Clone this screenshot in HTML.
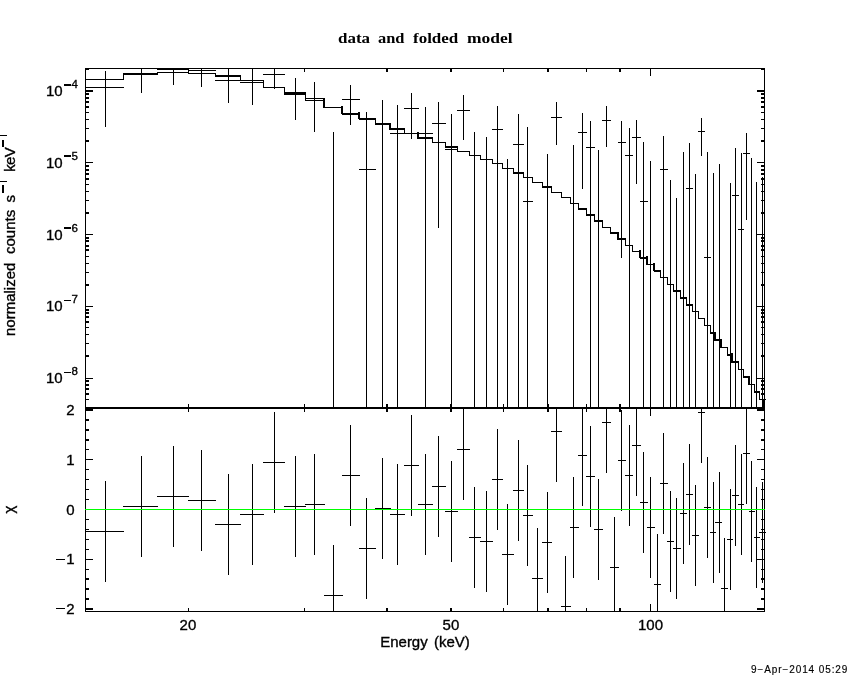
<!DOCTYPE html>
<html><head><meta charset="utf-8"><title>data and folded model</title>
<style>
html,body{margin:0;padding:0;background:#fff;}
body{width:850px;height:680px;overflow:hidden;position:relative;font-family:"Liberation Sans",sans-serif;color:#000;}
svg{position:absolute;left:0;top:0;}
.t{position:absolute;white-space:nowrap;line-height:1;font-size:15px;-webkit-text-stroke:0.35px #000;}
#txt{position:absolute;left:0;top:0;width:850px;height:680px;will-change:transform;}
.yl{text-align:right;width:60px;left:2.6px;}
.sp{left:71.6px;font-size:11.5px;}
.yn{text-align:right;width:60px;left:14.6px;}
.ti{top:29.6px;font-family:"Liberation Serif",serif;font-weight:bold;font-size:15.5px;-webkit-text-stroke:0;transform-origin:0 0;}
.yp{top:1.6px;}
.ys{top:-3px;font-size:11px;}
sup{font-size:11.5px;vertical-align:baseline;position:relative;top:-7px;line-height:0;letter-spacing:0.3px;}
</style></head><body>
<svg width="850" height="680" viewBox="0 0 850 680" shape-rendering="crispEdges">
<rect x="0" y="0" width="850" height="680" fill="#fff"/>
<g fill="#000"><rect x="85" y="68" width="680" height="1"/><rect x="85" y="407" width="680" height="2"/><rect x="85" y="611" width="680" height="1"/><rect x="85" y="68" width="1" height="544"/><rect x="764" y="68" width="1" height="544"/><rect x="85" y="79" width="39" height="1"/><rect x="123" y="73" width="35" height="2"/><rect x="123" y="74" width="1" height="6"/><rect x="157" y="72" width="32" height="1"/><rect x="157" y="72" width="1" height="3"/><rect x="188" y="73" width="28" height="1"/><rect x="188" y="72" width="1" height="2"/><rect x="215" y="75" width="26" height="2"/><rect x="215" y="73" width="1" height="3"/><rect x="240" y="80" width="24" height="1"/><rect x="240" y="75" width="1" height="6"/><rect x="263" y="87" width="22" height="1"/><rect x="263" y="80" width="1" height="8"/><rect x="284" y="92" width="22" height="2"/><rect x="284" y="87" width="1" height="7"/><rect x="305" y="100" width="20" height="1"/><rect x="305" y="93" width="1" height="8"/><rect x="324" y="107" width="19" height="1"/><rect x="323" y="99" width="2" height="9"/><rect x="342" y="113" width="18" height="2"/><rect x="341" y="106" width="2" height="8"/><rect x="359" y="118" width="17" height="2"/><rect x="358" y="112" width="2" height="7"/><rect x="375" y="123" width="16" height="2"/><rect x="375" y="118" width="1" height="7"/><rect x="390" y="128" width="15" height="2"/><rect x="389" y="123" width="2" height="7"/><rect x="404" y="133" width="15" height="1"/><rect x="404" y="129" width="1" height="5"/><rect x="418" y="137" width="15" height="2"/><rect x="417" y="132" width="2" height="7"/><rect x="432" y="142" width="14" height="1"/><rect x="432" y="138" width="1" height="5"/><rect x="445" y="146" width="13" height="2"/><rect x="445" y="142" width="1" height="5"/><rect x="457" y="151" width="13" height="1"/><rect x="457" y="146" width="1" height="6"/><rect x="469" y="155" width="12" height="1"/><rect x="469" y="151" width="1" height="5"/><rect x="480" y="159" width="13" height="1"/><rect x="480" y="155" width="1" height="5"/><rect x="492" y="163" width="11" height="1"/><rect x="492" y="159" width="1" height="5"/><rect x="502" y="168" width="12" height="1"/><rect x="502" y="163" width="1" height="6"/><rect x="513" y="172" width="11" height="2"/><rect x="513" y="168" width="1" height="6"/><rect x="523" y="177" width="10" height="1"/><rect x="523" y="173" width="1" height="5"/><rect x="532" y="182" width="11" height="1"/><rect x="532" y="177" width="1" height="6"/><rect x="542" y="186" width="10" height="2"/><rect x="542" y="182" width="1" height="6"/><rect x="551" y="192" width="11" height="1"/><rect x="551" y="187" width="1" height="6"/><rect x="561" y="197" width="10" height="1"/><rect x="561" y="192" width="1" height="6"/><rect x="570" y="203" width="9" height="1"/><rect x="570" y="197" width="1" height="7"/><rect x="578" y="208" width="9" height="2"/><rect x="578" y="203" width="1" height="6"/><rect x="586" y="214" width="9" height="2"/><rect x="586" y="208" width="1" height="8"/><rect x="594" y="220" width="9" height="2"/><rect x="594" y="215" width="1" height="7"/><rect x="602" y="227" width="9" height="1"/><rect x="602" y="221" width="1" height="7"/><rect x="610" y="232" width="9" height="2"/><rect x="610" y="227" width="1" height="7"/><rect x="618" y="238" width="8" height="2"/><rect x="617" y="232" width="2" height="8"/><rect x="625" y="245" width="8" height="1"/><rect x="625" y="239" width="1" height="7"/><rect x="632" y="251" width="9" height="1"/><rect x="632" y="245" width="1" height="7"/><rect x="640" y="257" width="8" height="2"/><rect x="639" y="250" width="2" height="8"/><rect x="647" y="264" width="8" height="1"/><rect x="646" y="256" width="2" height="9"/><rect x="654" y="270" width="7" height="2"/><rect x="653" y="263" width="2" height="8"/><rect x="660" y="277" width="8" height="1"/><rect x="660" y="270" width="1" height="8"/><rect x="667" y="284" width="7" height="1"/><rect x="667" y="277" width="1" height="8"/><rect x="673" y="290" width="8" height="2"/><rect x="673" y="284" width="1" height="7"/><rect x="680" y="297" width="7" height="2"/><rect x="680" y="290" width="1" height="9"/><rect x="686" y="304" width="7" height="2"/><rect x="686" y="298" width="1" height="8"/><rect x="692" y="311" width="7" height="1"/><rect x="692" y="305" width="1" height="7"/><rect x="698" y="318" width="7" height="1"/><rect x="698" y="311" width="1" height="8"/><rect x="704" y="325" width="7" height="1"/><rect x="704" y="318" width="1" height="8"/><rect x="710" y="332" width="6" height="2"/><rect x="710" y="325" width="1" height="9"/><rect x="715" y="339" width="7" height="2"/><rect x="714" y="332" width="2" height="9"/><rect x="721" y="347" width="7" height="1"/><rect x="720" y="339" width="2" height="9"/><rect x="727" y="354" width="6" height="2"/><rect x="727" y="347" width="1" height="8"/><rect x="732" y="361" width="7" height="2"/><rect x="731" y="353" width="2" height="10"/><rect x="738" y="369" width="6" height="1"/><rect x="738" y="362" width="1" height="8"/><rect x="743" y="376" width="7" height="2"/><rect x="743" y="369" width="1" height="9"/><rect x="749" y="384" width="6" height="1"/><rect x="748" y="376" width="2" height="9"/><rect x="754" y="391" width="6" height="2"/><rect x="754" y="384" width="1" height="9"/><rect x="759" y="399" width="7" height="1"/><rect x="759" y="392" width="1" height="8"/><rect x="763" y="399" width="1" height="8"/><rect x="105" y="71" width="1" height="56"/><rect x="85" y="87" width="39" height="1"/><rect x="141" y="68" width="1" height="25"/><rect x="123" y="73" width="35" height="1"/><rect x="173" y="68" width="1" height="17"/><rect x="157" y="69" width="32" height="1"/><rect x="201" y="68" width="1" height="19"/><rect x="188" y="70" width="28" height="1"/><rect x="228" y="68" width="1" height="35"/><rect x="215" y="80" width="26" height="1"/><rect x="252" y="68" width="1" height="37"/><rect x="240" y="82" width="24" height="1"/><rect x="274" y="68" width="1" height="21"/><rect x="263" y="74" width="22" height="1"/><rect x="295" y="78" width="1" height="42"/><rect x="284" y="94" width="22" height="1"/><rect x="314" y="82" width="1" height="50"/><rect x="305" y="98" width="20" height="1"/><rect x="333" y="132" width="1" height="276"/><rect x="350" y="85" width="1" height="40"/><rect x="342" y="99" width="18" height="1"/><rect x="366" y="112" width="1" height="296"/><rect x="359" y="169" width="17" height="1"/><rect x="382" y="100" width="1" height="308"/><rect x="397" y="105" width="1" height="303"/><rect x="390" y="133" width="15" height="1"/><rect x="411" y="93" width="1" height="46"/><rect x="404" y="108" width="15" height="1"/><rect x="425" y="107" width="1" height="301"/><rect x="418" y="133" width="15" height="1"/><rect x="438" y="102" width="1" height="126"/><rect x="432" y="123" width="14" height="1"/><rect x="451" y="114" width="1" height="294"/><rect x="445" y="149" width="13" height="1"/><rect x="463" y="95" width="1" height="45"/><rect x="457" y="110" width="13" height="1"/><rect x="474" y="132" width="1" height="276"/><rect x="486" y="137" width="1" height="271"/><rect x="497" y="106" width="1" height="302"/><rect x="492" y="129" width="11" height="1"/><rect x="507" y="159" width="1" height="249"/><rect x="518" y="114" width="1" height="294"/><rect x="513" y="144" width="11" height="1"/><rect x="527" y="127" width="1" height="281"/><rect x="523" y="201" width="10" height="1"/><rect x="547" y="154" width="1" height="254"/><rect x="556" y="102" width="1" height="43"/><rect x="551" y="117" width="11" height="1"/><rect x="573" y="145" width="1" height="263"/><rect x="582" y="113" width="1" height="76"/><rect x="578" y="132" width="9" height="1"/><rect x="590" y="121" width="1" height="287"/><rect x="586" y="147" width="9" height="1"/><rect x="598" y="150" width="1" height="258"/><rect x="606" y="106" width="1" height="41"/><rect x="602" y="120" width="9" height="1"/><rect x="621" y="121" width="1" height="137"/><rect x="618" y="142" width="8" height="1"/><rect x="629" y="128" width="1" height="280"/><rect x="625" y="155" width="8" height="1"/><rect x="636" y="120" width="1" height="64"/><rect x="632" y="137" width="9" height="1"/><rect x="643" y="142" width="1" height="266"/><rect x="640" y="201" width="8" height="1"/><rect x="650" y="161" width="1" height="247"/><rect x="663" y="136" width="1" height="272"/><rect x="660" y="169" width="8" height="1"/><rect x="670" y="180" width="1" height="228"/><rect x="676" y="198" width="1" height="210"/><rect x="683" y="152" width="1" height="256"/><rect x="689" y="143" width="1" height="265"/><rect x="686" y="188" width="7" height="1"/><rect x="695" y="174" width="1" height="234"/><rect x="701" y="118" width="1" height="38"/><rect x="698" y="131" width="7" height="1"/><rect x="707" y="152" width="1" height="256"/><rect x="704" y="257" width="7" height="1"/><rect x="713" y="173" width="1" height="235"/><rect x="719" y="164" width="1" height="244"/><rect x="730" y="183" width="1" height="225"/><rect x="735" y="148" width="1" height="260"/><rect x="732" y="195" width="7" height="1"/><rect x="741" y="153" width="1" height="255"/><rect x="738" y="229" width="6" height="1"/><rect x="746" y="133" width="1" height="87"/><rect x="743" y="153" width="7" height="1"/><rect x="751" y="158" width="1" height="250"/><rect x="756" y="182" width="1" height="226"/><rect x="762" y="177" width="1" height="231"/><rect x="105" y="481" width="1" height="101"/><rect x="85" y="531" width="39" height="1"/><rect x="141" y="456" width="1" height="101"/><rect x="123" y="506" width="35" height="1"/><rect x="173" y="446" width="1" height="101"/><rect x="157" y="496" width="32" height="1"/><rect x="201" y="450" width="1" height="101"/><rect x="188" y="500" width="28" height="1"/><rect x="228" y="474" width="1" height="101"/><rect x="215" y="524" width="26" height="1"/><rect x="252" y="464" width="1" height="101"/><rect x="240" y="514" width="24" height="1"/><rect x="274" y="412" width="1" height="101"/><rect x="263" y="462" width="22" height="1"/><rect x="295" y="456" width="1" height="101"/><rect x="284" y="506" width="22" height="1"/><rect x="314" y="454" width="1" height="101"/><rect x="305" y="504" width="20" height="1"/><rect x="333" y="545" width="1" height="66"/><rect x="324" y="595" width="19" height="1"/><rect x="350" y="425" width="1" height="101"/><rect x="342" y="475" width="18" height="1"/><rect x="366" y="498" width="1" height="101"/><rect x="359" y="548" width="17" height="1"/><rect x="382" y="458" width="1" height="101"/><rect x="375" y="508" width="16" height="1"/><rect x="397" y="464" width="1" height="101"/><rect x="390" y="514" width="15" height="1"/><rect x="411" y="415" width="1" height="101"/><rect x="404" y="465" width="15" height="1"/><rect x="425" y="454" width="1" height="101"/><rect x="418" y="504" width="15" height="1"/><rect x="438" y="436" width="1" height="101"/><rect x="432" y="486" width="14" height="1"/><rect x="451" y="461" width="1" height="101"/><rect x="445" y="511" width="13" height="1"/><rect x="463" y="409" width="1" height="91"/><rect x="457" y="449" width="13" height="1"/><rect x="474" y="487" width="1" height="101"/><rect x="469" y="537" width="12" height="1"/><rect x="486" y="491" width="1" height="101"/><rect x="480" y="541" width="13" height="1"/><rect x="497" y="429" width="1" height="101"/><rect x="492" y="479" width="11" height="1"/><rect x="507" y="504" width="1" height="101"/><rect x="502" y="554" width="12" height="1"/><rect x="518" y="440" width="1" height="101"/><rect x="513" y="490" width="11" height="1"/><rect x="527" y="465" width="1" height="101"/><rect x="523" y="515" width="10" height="1"/><rect x="537" y="528" width="1" height="83"/><rect x="532" y="578" width="11" height="1"/><rect x="547" y="492" width="1" height="101"/><rect x="542" y="542" width="10" height="1"/><rect x="556" y="409" width="1" height="73"/><rect x="551" y="431" width="11" height="1"/><rect x="565" y="556" width="1" height="55"/><rect x="561" y="606" width="10" height="1"/><rect x="573" y="477" width="1" height="101"/><rect x="570" y="527" width="9" height="1"/><rect x="582" y="409" width="1" height="97"/><rect x="578" y="455" width="9" height="1"/><rect x="590" y="426" width="1" height="101"/><rect x="586" y="476" width="9" height="1"/><rect x="598" y="479" width="1" height="101"/><rect x="594" y="529" width="9" height="1"/><rect x="606" y="409" width="1" height="64"/><rect x="602" y="422" width="9" height="1"/><rect x="614" y="517" width="1" height="94"/><rect x="610" y="567" width="9" height="1"/><rect x="621" y="410" width="1" height="101"/><rect x="618" y="460" width="8" height="1"/><rect x="629" y="425" width="1" height="101"/><rect x="625" y="475" width="8" height="1"/><rect x="636" y="409" width="1" height="87"/><rect x="632" y="445" width="9" height="1"/><rect x="643" y="452" width="1" height="101"/><rect x="640" y="502" width="8" height="1"/><rect x="650" y="477" width="1" height="101"/><rect x="647" y="527" width="8" height="1"/><rect x="657" y="534" width="1" height="77"/><rect x="654" y="584" width="7" height="1"/><rect x="663" y="433" width="1" height="101"/><rect x="660" y="483" width="8" height="1"/><rect x="670" y="491" width="1" height="101"/><rect x="667" y="541" width="7" height="1"/><rect x="676" y="498" width="1" height="101"/><rect x="673" y="548" width="8" height="1"/><rect x="683" y="463" width="1" height="101"/><rect x="680" y="513" width="7" height="1"/><rect x="689" y="444" width="1" height="101"/><rect x="686" y="494" width="7" height="1"/><rect x="695" y="485" width="1" height="101"/><rect x="692" y="535" width="7" height="1"/><rect x="701" y="409" width="1" height="54"/><rect x="698" y="412" width="7" height="1"/><rect x="707" y="457" width="1" height="101"/><rect x="704" y="507" width="7" height="1"/><rect x="713" y="482" width="1" height="101"/><rect x="710" y="532" width="6" height="1"/><rect x="719" y="472" width="1" height="101"/><rect x="715" y="522" width="7" height="1"/><rect x="724" y="538" width="1" height="73"/><rect x="721" y="588" width="7" height="1"/><rect x="730" y="489" width="1" height="101"/><rect x="727" y="539" width="6" height="1"/><rect x="735" y="445" width="1" height="101"/><rect x="732" y="495" width="7" height="1"/><rect x="741" y="454" width="1" height="101"/><rect x="738" y="504" width="6" height="1"/><rect x="746" y="409" width="1" height="95"/><rect x="743" y="453" width="7" height="1"/><rect x="751" y="461" width="1" height="101"/><rect x="749" y="511" width="6" height="1"/><rect x="756" y="487" width="1" height="101"/><rect x="754" y="537" width="6" height="1"/><rect x="762" y="482" width="1" height="101"/><rect x="759" y="532" width="7" height="1"/><rect x="188" y="69" width="1" height="3"/><rect x="188" y="404" width="1" height="3"/><rect x="188" y="409" width="1" height="3"/><rect x="188" y="608" width="1" height="3"/><rect x="304" y="69" width="1" height="3"/><rect x="304" y="404" width="1" height="3"/><rect x="304" y="409" width="1" height="3"/><rect x="304" y="608" width="1" height="3"/><rect x="386" y="69" width="2" height="3"/><rect x="386" y="404" width="2" height="3"/><rect x="386" y="409" width="2" height="3"/><rect x="386" y="608" width="2" height="3"/><rect x="450" y="69" width="2" height="3"/><rect x="450" y="404" width="2" height="3"/><rect x="450" y="409" width="2" height="3"/><rect x="450" y="608" width="2" height="3"/><rect x="503" y="69" width="1" height="3"/><rect x="503" y="404" width="1" height="3"/><rect x="503" y="409" width="1" height="3"/><rect x="503" y="608" width="1" height="3"/><rect x="547" y="69" width="2" height="3"/><rect x="547" y="404" width="2" height="3"/><rect x="547" y="409" width="2" height="3"/><rect x="547" y="608" width="2" height="3"/><rect x="586" y="69" width="1" height="3"/><rect x="586" y="404" width="1" height="3"/><rect x="586" y="409" width="1" height="3"/><rect x="586" y="608" width="1" height="3"/><rect x="619" y="69" width="2" height="3"/><rect x="619" y="404" width="2" height="3"/><rect x="619" y="409" width="2" height="3"/><rect x="619" y="608" width="2" height="3"/><rect x="650" y="69" width="1" height="7"/><rect x="650" y="400" width="1" height="7"/><rect x="650" y="409" width="1" height="7"/><rect x="650" y="604" width="1" height="7"/><rect x="86" y="90" width="7" height="2"/><rect x="757" y="90" width="7" height="2"/><rect x="86" y="162" width="7" height="1"/><rect x="757" y="162" width="7" height="1"/><rect x="86" y="234" width="7" height="1"/><rect x="757" y="234" width="7" height="1"/><rect x="86" y="306" width="7" height="1"/><rect x="757" y="306" width="7" height="1"/><rect x="86" y="378" width="7" height="1"/><rect x="757" y="378" width="7" height="1"/><rect x="86" y="68" width="3" height="2"/><rect x="761" y="68" width="3" height="2"/><rect x="86" y="140" width="3" height="2"/><rect x="761" y="140" width="3" height="2"/><rect x="86" y="128" width="3" height="1"/><rect x="761" y="128" width="3" height="1"/><rect x="86" y="119" width="3" height="1"/><rect x="761" y="119" width="3" height="1"/><rect x="86" y="112" width="3" height="1"/><rect x="761" y="112" width="3" height="1"/><rect x="86" y="106" width="3" height="2"/><rect x="761" y="106" width="3" height="2"/><rect x="86" y="101" width="3" height="2"/><rect x="761" y="101" width="3" height="2"/><rect x="86" y="97" width="3" height="2"/><rect x="761" y="97" width="3" height="2"/><rect x="86" y="93" width="3" height="2"/><rect x="761" y="93" width="3" height="2"/><rect x="86" y="212" width="3" height="2"/><rect x="761" y="212" width="3" height="2"/><rect x="86" y="200" width="3" height="1"/><rect x="761" y="200" width="3" height="1"/><rect x="86" y="191" width="3" height="1"/><rect x="761" y="191" width="3" height="1"/><rect x="86" y="184" width="3" height="1"/><rect x="761" y="184" width="3" height="1"/><rect x="86" y="178" width="3" height="2"/><rect x="761" y="178" width="3" height="2"/><rect x="86" y="173" width="3" height="2"/><rect x="761" y="173" width="3" height="2"/><rect x="86" y="169" width="3" height="2"/><rect x="761" y="169" width="3" height="2"/><rect x="86" y="165" width="3" height="2"/><rect x="761" y="165" width="3" height="2"/><rect x="86" y="284" width="3" height="2"/><rect x="761" y="284" width="3" height="2"/><rect x="86" y="272" width="3" height="1"/><rect x="761" y="272" width="3" height="1"/><rect x="86" y="263" width="3" height="1"/><rect x="761" y="263" width="3" height="1"/><rect x="86" y="256" width="3" height="1"/><rect x="761" y="256" width="3" height="1"/><rect x="86" y="249" width="3" height="2"/><rect x="761" y="249" width="3" height="2"/><rect x="86" y="245" width="3" height="2"/><rect x="761" y="245" width="3" height="2"/><rect x="86" y="240" width="3" height="2"/><rect x="761" y="240" width="3" height="2"/><rect x="86" y="237" width="3" height="2"/><rect x="761" y="237" width="3" height="2"/><rect x="86" y="355" width="3" height="2"/><rect x="761" y="355" width="3" height="2"/><rect x="86" y="343" width="3" height="1"/><rect x="761" y="343" width="3" height="1"/><rect x="86" y="334" width="3" height="1"/><rect x="761" y="334" width="3" height="1"/><rect x="86" y="327" width="3" height="1"/><rect x="761" y="327" width="3" height="1"/><rect x="86" y="321" width="3" height="2"/><rect x="761" y="321" width="3" height="2"/><rect x="86" y="316" width="3" height="2"/><rect x="761" y="316" width="3" height="2"/><rect x="86" y="312" width="3" height="2"/><rect x="761" y="312" width="3" height="2"/><rect x="86" y="309" width="3" height="2"/><rect x="761" y="309" width="3" height="2"/><rect x="86" y="399" width="3" height="1"/><rect x="761" y="399" width="3" height="1"/><rect x="86" y="393" width="3" height="2"/><rect x="761" y="393" width="3" height="2"/><rect x="86" y="388" width="3" height="2"/><rect x="761" y="388" width="3" height="2"/><rect x="86" y="384" width="3" height="2"/><rect x="761" y="384" width="3" height="2"/><rect x="86" y="380" width="3" height="2"/><rect x="761" y="380" width="3" height="2"/><rect x="86" y="409" width="7" height="2"/><rect x="757" y="409" width="7" height="2"/><rect x="86" y="419" width="3" height="2"/><rect x="761" y="419" width="3" height="2"/><rect x="86" y="429" width="3" height="2"/><rect x="761" y="429" width="3" height="2"/><rect x="86" y="439" width="3" height="2"/><rect x="761" y="439" width="3" height="2"/><rect x="86" y="449" width="3" height="1"/><rect x="761" y="449" width="3" height="1"/><rect x="86" y="459" width="7" height="1"/><rect x="757" y="459" width="7" height="1"/><rect x="86" y="469" width="3" height="1"/><rect x="761" y="469" width="3" height="1"/><rect x="86" y="479" width="3" height="1"/><rect x="761" y="479" width="3" height="1"/><rect x="86" y="489" width="3" height="1"/><rect x="761" y="489" width="3" height="1"/><rect x="86" y="499" width="3" height="1"/><rect x="761" y="499" width="3" height="1"/><rect x="86" y="509" width="7" height="1"/><rect x="757" y="509" width="7" height="1"/><rect x="86" y="519" width="3" height="1"/><rect x="761" y="519" width="3" height="1"/><rect x="86" y="529" width="3" height="1"/><rect x="761" y="529" width="3" height="1"/><rect x="86" y="539" width="3" height="1"/><rect x="761" y="539" width="3" height="1"/><rect x="86" y="549" width="3" height="1"/><rect x="761" y="549" width="3" height="1"/><rect x="86" y="559" width="7" height="1"/><rect x="757" y="559" width="7" height="1"/><rect x="86" y="569" width="3" height="1"/><rect x="761" y="569" width="3" height="1"/><rect x="86" y="578" width="3" height="2"/><rect x="761" y="578" width="3" height="2"/><rect x="86" y="588" width="3" height="2"/><rect x="761" y="588" width="3" height="2"/><rect x="86" y="598" width="3" height="2"/><rect x="761" y="598" width="3" height="2"/><rect x="86" y="608" width="7" height="2"/><rect x="757" y="608" width="7" height="2"/><rect x="64" y="84" width="7" height="2"/><rect x="64" y="155" width="7" height="2"/><rect x="64" y="227" width="7" height="2"/><rect x="64" y="300" width="7" height="1"/><rect x="64" y="372" width="7" height="1"/><rect x="56" y="559" width="9" height="1"/><rect x="56" y="608" width="9" height="1"/><rect x="2" y="185" width="2" height="8"/><rect x="0" y="181" width="7" height="1"/><rect x="2" y="140" width="2" height="7"/><rect x="0" y="135" width="7" height="1"/></g>
<rect x="85" y="509" width="680" height="1" fill="#00ff00"/>
</svg>
<div id="txt">
<div class="t ti" id="w1" style="left:337.5px;transform:scaleX(1.096);">data</div>
<div class="t ti" id="w2" style="left:378.4px;transform:scaleX(1.06);">and</div>
<div class="t ti" id="w3" style="left:413px;transform:scaleX(1.096);">folded</div>
<div class="t ti" id="w4" style="left:466.8px;transform:scaleX(1.127);">model</div>
<div class="t yl" style="top:83px;">10</div><div class="t sp" style="top:78.5px;">4</div>
<div class="t yl" style="top:155px;">10</div><div class="t sp" style="top:150.5px;">5</div>
<div class="t yl" style="top:227px;">10</div><div class="t sp" style="top:222.5px;">6</div>
<div class="t yl" style="top:298px;">10</div><div class="t sp" style="top:293.5px;">7</div>
<div class="t yl" style="top:370px;">10</div><div class="t sp" style="top:365.5px;">8</div>
<div class="t yn" id="n2" style="top:401.5px;">2</div>
<div class="t yn" id="n1" style="top:452px;">1</div>
<div class="t yn" id="n0" style="top:501.5px;">0</div>
<div class="t yn" id="nm1" style="top:551px;">1</div>
<div class="t yn" id="nm2" style="top:600.5px;">2</div>
<div class="t" id="x20" style="left:179.6px;top:616.5px;">20</div>
<div class="t" id="x50" style="left:442.6px;top:616.5px;">50</div>
<div class="t" id="x100" style="left:638px;top:616.5px;">100</div>
<div class="t" id="xlab" style="left:380.2px;top:634.2px;word-spacing:2px;">Energy (keV)</div>
<div class="t" id="date" style="left:751px;top:665px;font-size:10px;letter-spacing:0.9px;-webkit-text-stroke:0.15px #000;">9−Apr−2014 05:29</div>
<div id="ylab" style="position:absolute;left:0;top:0;width:0;height:0;transform-origin:0 0;transform:translate(0px,336px) rotate(-90deg);">
<span class="t yp" style="left:0px;">normalized</span>
<span class="t yp" style="left:82px;">counts</span>
<span class="t yp" style="left:133.6px;">s</span>
<span class="t yp" style="left:164.2px;letter-spacing:-0.6px;">keV</span>
</div>
<div class="t" id="chi" style="left:0;top:0;transform-origin:0 0;transform:translate(1px,513.5px) rotate(-90deg);">χ</div>
</div>
</body></html>
